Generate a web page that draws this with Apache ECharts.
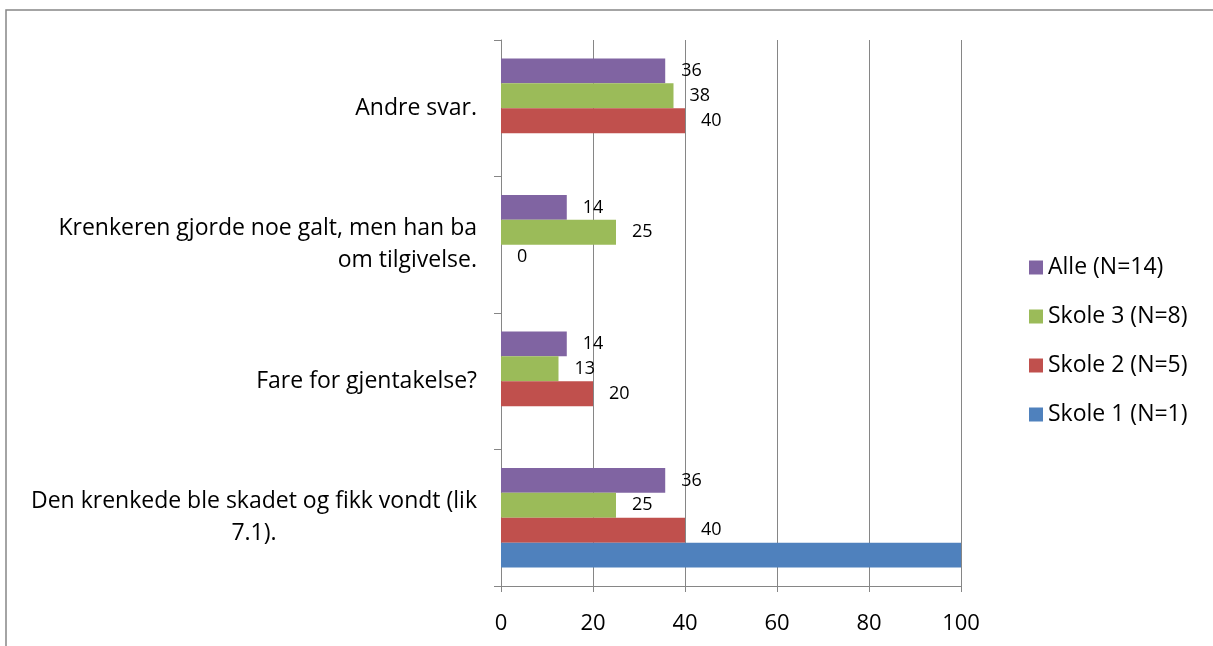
<!DOCTYPE html>
<html>
<head>
<meta charset="utf-8">
<script src="https://cdn.jsdelivr.net/npm/echarts@6/dist/echarts.min.js"></script>
<style>
  html, body { margin: 0; padding: 0; background: #fff; }
  #chartmain { width: 1213px; height: 646px; }
</style>
</head>
<body>
<div id="chartmain"></div>
<script>
// kategorier nedenfra og opp
var categories = [
    'Den krenkede ble skadet og fikk vondt (lik 7.1).',
    'Fare for gjentakelse?',
    'Krenkeren gjorde noe galt, men han ba om tilgivelse.',
    'Andre svar.'
];
var seriesNames = ['Skole 1 (N=1)', 'Skole 2 (N=5)', 'Skole 3 (N=8)', 'Alle (N=14)'];
var skole1 = [100, 0, 0, 0];
var skole2 = [40, 20, 0, 40];
var skole3 = [25, 12.5, 25, 37.5];
var alle = [35.7, 14.3, 14.3, 35.7];
var xTicks = [0, 20, 40, 60, 80, 100];

var colors = ['#4F81BD', '#C0504D', '#9BBB59', '#8064A2'];
var font = 'Open Sans';

// manuelle linjeskift som i originalen
var catLabels = {};
catLabels[categories[0]] = '{r|Den krenkede ble skadet og fikk vondt (lik}\n{c|7.1).}';
catLabels[categories[1]] = '{r|Fare for gjentakelse?}';
catLabels[categories[2]] = '{r|Krenkeren gjorde noe galt, men han ba}\n{r|om tilgivelse.}';
catLabels[categories[3]] = '{r|Andre svar.}';

function barSeries(i, data, showLabel) {
    return {
        name: seriesNames[i],
        type: 'bar',
        data: data,
        barGap: '0%',
        barCategoryGap: '27%',
        itemStyle: { color: colors[i] },
        label: {
            show: showLabel,
            position: 'right',
            distance: 16,
            color: '#000',
            fontFamily: font,
            fontSize: 18,
            formatter: function (p) { return Math.round(p.value); }
        }
    };
}

var option = {
    animation: false,
    color: colors,
    graphic: [{
        type: 'rect',
        shape: { x: 6, y: 10, width: 1230, height: 660 },
        style: { fill: 'none', stroke: '#868686', lineWidth: 1.5 },
        silent: true
    }],
    grid: { left: 501, right: 252, top: 40, bottom: 60 },
    legend: {
        orient: 'vertical',
        left: 1024,
        top: 251,
        itemWidth: 14,
        itemHeight: 14,
        itemGap: 26,
        icon: 'rect',
        data: [seriesNames[3], seriesNames[2], seriesNames[1], seriesNames[0]],
        textStyle: { fontFamily: font, fontSize: 23, color: '#000', lineHeight: 21 }
    },
    xAxis: {
        type: 'value',
        min: 0,
        max: 100,
        interval: 20,
        axisLine: { show: true, lineStyle: { color: '#868686', width: 1 } },
        axisTick: { show: true, length: 6, lineStyle: { color: '#868686' } },
        splitLine: { show: true, lineStyle: { color: '#868686', width: 1 } },
        axisLabel: {
            margin: 27,
            fontFamily: font,
            fontSize: 22,
            color: '#000',
            formatter: function (v) { return xTicks.indexOf(v) >= 0 ? String(v) : ''; }
        }
    },
    yAxis: {
        type: 'category',
        data: categories,
        axisLine: { show: true, lineStyle: { color: '#868686', width: 1 } },
        axisTick: { show: true, length: 7, lineStyle: { color: '#868686' } },
        axisLabel: {
            margin: 24,
            fontFamily: font,
            fontSize: 23,
            color: '#000',
            lineHeight: 32,
            formatter: function (v) { return catLabels[v]; },
            rich: {
                r: { align: 'right', fontFamily: font, fontSize: 23, color: '#000', lineHeight: 32 },
                c: { align: 'center', fontFamily: font, fontSize: 23, color: '#000', lineHeight: 32 }
            }
        }
    },
    // første serie havner øverst i hver kategori
    series: [
        barSeries(3, alle, true),
        barSeries(2, skole3, true),
        barSeries(1, skole2, true),
        barSeries(0, skole1, false)
    ]
};

var myChart = echarts.init(document.getElementById('chartmain'));
myChart.setOption(option);
</script>
</body>
</html>
